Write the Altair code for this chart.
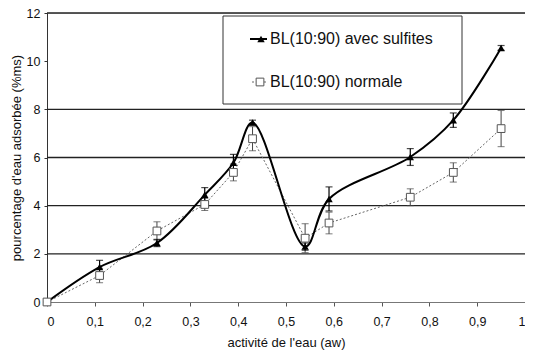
import altair as alt
import pandas as pd

# Data
aw = [0, 0.11, 0.23, 0.33, 0.39, 0.43, 0.54, 0.59, 0.76, 0.85, 0.95]
sulf = [0, 1.45, 2.45, 4.45, 5.78, 7.45, 2.3, 4.28, 6.02, 7.55, 10.55]
sulf_err = [0, 0.28, 0.15, 0.3, 0.35, 0.1, 0.15, 0.5, 0.35, 0.3, 0.1]
norm = [0, 1.1, 2.95, 4.05, 5.38, 6.78, 2.65, 3.28, 4.35, 5.38, 7.2]
norm_err = [0, 0.3, 0.38, 0.25, 0.35, 0.5, 0.6, 0.45, 0.35, 0.4, 0.75]
grid_vals = [2, 4, 6, 8, 12]
x_ticks = [0, 0.1, 0.2, 0.3, 0.4, 0.5, 0.6, 0.7, 0.8, 0.9, 1.0]
y_ticks = [0, 2, 4, 6, 8, 10, 12]
labels = ["BL(10:90) avec sulfites", "BL(10:90) normale"]

FONT = "Liberation Sans"

ds = pd.DataFrame({"aw": aw, "v": sulf,
                   "lo": [v - e for v, e in zip(sulf, sulf_err)],
                   "hi": [v + e for v, e in zip(sulf, sulf_err)]})
dn = pd.DataFrame({"aw": aw, "v": norm,
                   "lo": [v - e for v, e in zip(norm, norm_err)],
                   "hi": [v + e for v, e in zip(norm, norm_err)]})
dg = pd.DataFrame({"g": grid_vals})

xs = alt.Scale(domain=[0, 1], nice=False)
ys = alt.Scale(domain=[0, 12], nice=False)

xax = alt.Axis(values=x_ticks, grid=False,
               labelExpr="replace(format(datum.value, '.1~f'), '.', ',')",
               title="activité de l'eau (aw)", domainColor="#777", tickColor="#555",
               tickSize=4, labelPadding=9, titlePadding=9,
               labelFont=FONT, labelFontSize=12.5, labelColor="#111",
               titleFont=FONT, titleFontSize=13, titleFontWeight="normal", titleColor="#111")
yax = alt.Axis(values=y_ticks, grid=False, title="pourcentage d'eau adsorbée (%ms)",
               domainColor="#333", tickColor="#333", tickSize=3, labelPadding=4,
               titlePadding=3,
               labelFont=FONT, labelFontSize=12.5, labelColor="#111",
               titleFont=FONT, titleFontSize=13, titleFontWeight="normal", titleColor="#111")

grid = alt.Chart(dg).mark_rule(color="#222", strokeWidth=1.3).encode(
    y=alt.Y("g:Q", scale=ys, axis=yax))

base_x = alt.X("aw:Q", scale=xs, axis=xax)

line_n = alt.Chart(dn).mark_line(color="#666", strokeWidth=1, strokeDash=[2, 2]).encode(
    x=base_x, y=alt.Y("v:Q", scale=ys))
err_n = alt.Chart(dn).mark_rule(color="#444", strokeWidth=1).encode(
    x="aw:Q", y="lo:Q", y2="hi:Q")
cap_n_lo = alt.Chart(dn).mark_tick(color="#444", thickness=1, size=7, orient="horizontal").encode(
    x="aw:Q", y="lo:Q")
cap_n_hi = alt.Chart(dn).mark_tick(color="#444", thickness=1, size=7, orient="horizontal").encode(
    x="aw:Q", y="hi:Q")

line_s = alt.Chart(ds).mark_line(color="#000", strokeWidth=2, interpolate="catmull-rom").encode(
    x="aw:Q", y="v:Q")
err_s = alt.Chart(ds).mark_rule(color="#000", strokeWidth=1.2).encode(
    x="aw:Q", y="lo:Q", y2="hi:Q")
cap_s_lo = alt.Chart(ds).mark_tick(color="#000", thickness=1.2, size=7, orient="horizontal").encode(
    x="aw:Q", y="lo:Q")
cap_s_hi = alt.Chart(ds).mark_tick(color="#000", thickness=1.2, size=7, orient="horizontal").encode(
    x="aw:Q", y="hi:Q")
pts_s = alt.Chart(ds).mark_point(shape="triangle-up", filled=True, color="#000", size=55, opacity=1).encode(
    x="aw:Q", y="v:Q")
pts_n = alt.Chart(dn).mark_point(shape="square", filled=True, fill="white", stroke="#555",
                                 strokeWidth=1, size=60, opacity=1).encode(
    x="aw:Q", y="v:Q")

# Manual legend (layout only)
leg_df = pd.DataFrame({"k": [0]})
leg_box = alt.Chart(leg_df).mark_rect(fill="white", stroke="#333", strokeWidth=1).encode(
    x=alt.value(176), x2=alt.value(415), y=alt.value(3), y2=alt.value(91))
leg_l1 = alt.Chart(leg_df).mark_rule(color="#000", strokeWidth=2).encode(
    x=alt.value(203), x2=alt.value(220), y=alt.value(26))
leg_p1 = alt.Chart(leg_df).mark_point(shape="triangle-up", filled=True, color="#000", size=55, opacity=1).encode(
    x=alt.value(214), y=alt.value(26))
leg_t1 = alt.Chart(leg_df).mark_text(align="left", baseline="middle", font=FONT, fontSize=16, color="#111").encode(
    x=alt.value(223), y=alt.value(26), text=alt.value(labels[0]))
leg_l2 = alt.Chart(leg_df).mark_rule(color="#666", strokeWidth=1, strokeDash=[2, 2]).encode(
    x=alt.value(205), x2=alt.value(220), y=alt.value(69))
leg_p2 = alt.Chart(leg_df).mark_point(shape="square", filled=True, fill="white", stroke="#555",
                                      strokeWidth=1, size=60, opacity=1).encode(
    x=alt.value(213), y=alt.value(69))
leg_t2 = alt.Chart(leg_df).mark_text(align="left", baseline="middle", font=FONT, fontSize=16, color="#111").encode(
    x=alt.value(223), y=alt.value(69), text=alt.value(labels[1]))

chart = alt.layer(
    grid, line_n, err_n, cap_n_lo, cap_n_hi,
    line_s, err_s, cap_s_lo, cap_s_hi, pts_s, pts_n,
    leg_box, leg_l1, leg_p1, leg_t1, leg_l2, leg_p2, leg_t2,
).properties(
    width=478, height=289,
    autosize=alt.AutoSizeParams(type="none"),
    padding={"left": 39, "top": 5, "right": 0, "bottom": 49},
).configure_view(stroke=None).configure(background="white")

chart.save("out.html", embed_options={"renderer": "svg", "actions": False})
